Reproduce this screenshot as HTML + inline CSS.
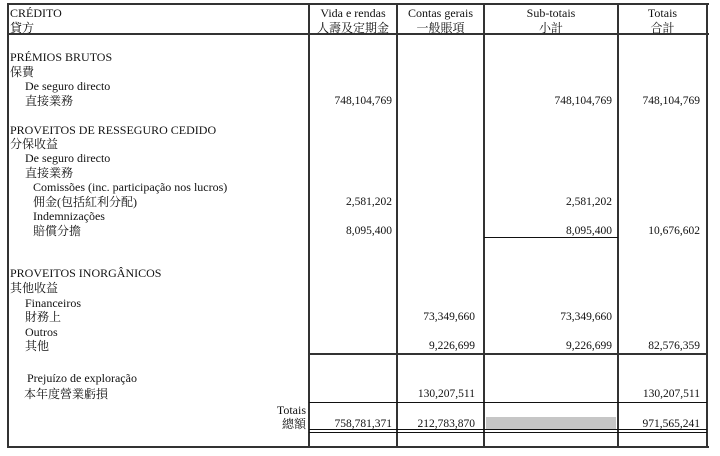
<!DOCTYPE html>
<html>
<head>
<meta charset="utf-8">
<style>
html,body{margin:0;padding:0;background:#fff;}
body{width:720px;height:456px;position:relative;overflow:hidden;font-family:"Liberation Serif","Noto Serif CJK SC",serif;color:#111;}
.t{position:absolute;font-size:12px;line-height:14px;white-space:nowrap;}
.n{position:absolute;font-size:11.5px;line-height:14px;white-space:nowrap;text-align:right;}
.c{position:absolute;font-size:12px;line-height:14px;white-space:nowrap;text-align:center;}
.h{position:absolute;height:2px;background:#333;}
.h1{position:absolute;height:1px;background:#111;}
.v{position:absolute;width:2px;background:#333;}
</style>
</head>
<body>
<!-- outer borders -->
<div class="h" style="left:7px;top:3px;width:702px;"></div>
<div class="h" style="left:7px;top:33px;width:702px;"></div>
<div class="h" style="left:7px;top:446px;width:702px;"></div>
<div class="v" style="left:7px;top:3px;height:445px;"></div>
<div class="v" style="left:308px;top:3px;height:445px;"></div>
<div class="v" style="left:396px;top:3px;height:445px;"></div>
<div class="v" style="left:483px;top:3px;height:445px;"></div>
<div class="v" style="left:617px;top:3px;height:445px;"></div>
<div class="v" style="left:706px;top:3px;height:445px;"></div>
<!-- inner lines -->
<div class="h1" style="left:484px;top:237px;width:134px;"></div>
<div class="h" style="left:309px;top:353px;width:398px;"></div>
<div class="h1" style="left:309px;top:402px;width:398px;"></div>
<div class="h1" style="left:309px;top:429px;width:398px;"></div>
<div class="h1" style="left:309px;top:432px;width:398px;"></div>
<!-- shaded box -->
<div style="position:absolute;left:486px;top:417px;width:130px;height:12px;background:#c6c6c6;"></div>

<!-- header -->
<div class="t" style="left:10px;top:6px;">CRÉDITO</div>
<div class="t" style="left:10px;top:21px;">貸方</div>
<div class="c" style="left:309px;width:88px;top:6px;">Vida e rendas</div>
<div class="c" style="left:309px;width:88px;top:21px;">人壽及定期金</div>
<div class="c" style="left:397px;width:87px;top:6px;">Contas gerais</div>
<div class="c" style="left:397px;width:87px;top:21px;">一般賬項</div>
<div class="c" style="left:484px;width:134px;top:6px;">Sub-totais</div>
<div class="c" style="left:484px;width:134px;top:21px;">小計</div>
<div class="c" style="left:618px;width:89px;top:6px;">Totais</div>
<div class="c" style="left:618px;width:89px;top:21px;">合計</div>

<!-- section 1 -->
<div class="t" style="left:10px;top:50px;">PRÉMIOS BRUTOS</div>
<div class="t" style="left:10px;top:65px;">保費</div>
<div class="t" style="left:25px;top:79px;">De seguro directo</div>
<div class="t" style="left:25px;top:94px;">直接業務</div>
<div class="n" style="right:328px;top:94px;">748,104,769</div>
<div class="n" style="right:108px;top:94px;">748,104,769</div>
<div class="n" style="right:20px;top:94px;">748,104,769</div>

<!-- section 2 -->
<div class="t" style="left:10px;top:123px;">PROVEITOS DE RESSEGURO CEDIDO</div>
<div class="t" style="left:10px;top:137px;">分保收益</div>
<div class="t" style="left:25px;top:151px;">De seguro directo</div>
<div class="t" style="left:25px;top:166px;">直接業務</div>
<div class="t" style="left:33px;top:180px;">Comissões (inc. participação nos lucros)</div>
<div class="t" style="left:33px;top:195px;">佣金(包括紅利分配)</div>
<div class="t" style="left:33px;top:209px;">Indemnizações</div>
<div class="t" style="left:33px;top:224px;">賠償分擔</div>
<div class="n" style="right:328px;top:195px;">2,581,202</div>
<div class="n" style="right:108px;top:195px;">2,581,202</div>
<div class="n" style="right:328px;top:224px;">8,095,400</div>
<div class="n" style="right:108px;top:224px;">8,095,400</div>
<div class="n" style="right:20px;top:224px;">10,676,602</div>

<!-- section 3 -->
<div class="t" style="left:10px;top:266px;">PROVEITOS INORGÂNICOS</div>
<div class="t" style="left:10px;top:281px;">其他收益</div>
<div class="t" style="left:25px;top:296px;">Financeiros</div>
<div class="t" style="left:25px;top:310px;">財務上</div>
<div class="t" style="left:25px;top:325px;">Outros</div>
<div class="t" style="left:25px;top:339px;">其他</div>
<div class="n" style="right:245px;top:310px;">73,349,660</div>
<div class="n" style="right:108px;top:310px;">73,349,660</div>
<div class="n" style="right:245px;top:339px;">9,226,699</div>
<div class="n" style="right:108px;top:339px;">9,226,699</div>
<div class="n" style="right:20px;top:339px;">82,576,359</div>

<!-- section 4 -->
<div class="t" style="left:27px;top:371px;">Prejuízo de exploração</div>
<div class="t" style="left:24px;top:387px;">本年度營業虧損</div>
<div class="n" style="right:245px;top:387px;">130,207,511</div>
<div class="n" style="right:20px;top:387px;">130,207,511</div>

<!-- totals -->
<div class="t" style="right:414px;top:403px;text-align:right;">Totais</div>
<div class="t" style="right:414px;top:417px;text-align:right;">總額</div>
<div class="n" style="right:328px;top:417px;">758,781,371</div>
<div class="n" style="right:245px;top:417px;">212,783,870</div>
<div class="n" style="right:20px;top:417px;">971,565,241</div>
</body>
</html>
